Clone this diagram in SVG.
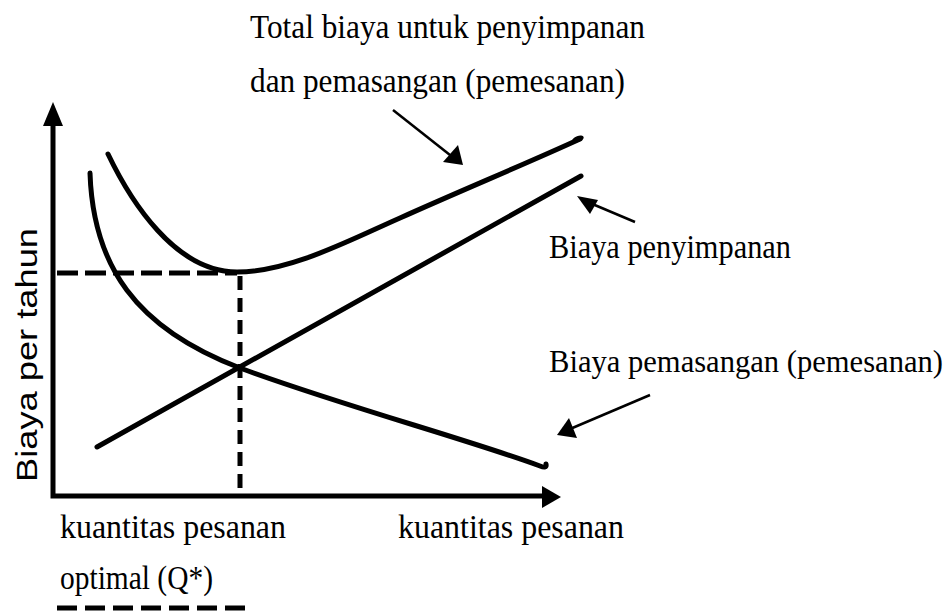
<svg xmlns="http://www.w3.org/2000/svg" width="952" height="612" viewBox="0 0 952 612">
<style>
.lbl{font-family:"Liberation Serif","Times New Roman",serif;font-size:34px;fill:#000}
.ax{font-family:"Liberation Sans",Arial,sans-serif;font-size:30px;fill:#000}
.curve{fill:none;stroke:#000;stroke-width:5;stroke-linecap:round;stroke-linejoin:round}
.dash{fill:none;stroke:#000;stroke-width:5}
.thin{fill:none;stroke:#000;stroke-width:2.5}
.head{fill:#000;stroke:none}
</style>
<rect width="952" height="612" fill="#fff"/>
<g id="axes">
<polyline class="dash" points="53,123 53,496 544,496"/>
<polygon class="head" points="53,102 43,126 63,126"/>
<polygon class="head" points="561,497 542,486 542,508"/>
<text class="ax" transform="translate(37,482) rotate(-90)" textLength="254" lengthAdjust="spacingAndGlyphs">Biaya per tahun</text>
</g>
<g id="guides">
<line class="dash" x1="57" y1="273" x2="237" y2="273" stroke-dasharray="21 7"/>
<line class="dash" x1="240" y1="276" x2="240" y2="494" stroke-dasharray="14 8"/>
<line class="dash" x1="57" y1="608" x2="245" y2="608" stroke-dasharray="20 8"/>
</g>
<g id="total-cost">
<path class="curve" d="M108,154 C130,200 175,272 237,272 C290,272 350,240 400,218 C460,191 530,162 580,139"/>
<ellipse cx="578" cy="139" rx="6" ry="3" transform="rotate(-20 578 139)"/>
</g>
<g id="holding-cost">
<path class="curve" d="M97,447 L581,176"/>
</g>
<g id="ordering-cost">
<path class="curve" d="M90,173 C93,265 135,328 240,368 C340,405 470,440 540,466 Q547,469 546,464"/>
</g>
<g id="connectors">
<line class="thin" x1="393" y1="110" x2="450" y2="155"/>
<polygon class="head" points="463,165 443,162 458,145"/>
<line class="thin" x1="635" y1="222" x2="590" y2="203"/>
<polygon class="head" points="577,196 590,214 598,200"/>
<line class="thin" x1="650" y1="395" x2="570" y2="429"/>
<polygon class="head" points="557,435 569,418 577,438"/>
</g>
<g id="labels">
<text class="lbl" x="250" y="38" textLength="395" lengthAdjust="spacingAndGlyphs">Total biaya untuk penyimpanan</text>
<text class="lbl" x="250" y="92" textLength="375" lengthAdjust="spacingAndGlyphs">dan pemasangan (pemesanan)</text>
<text class="lbl" x="549" y="258" textLength="242" lengthAdjust="spacingAndGlyphs">Biaya penyimpanan</text>
<text class="lbl" x="549" y="372" style="font-size:31px" textLength="394" lengthAdjust="spacingAndGlyphs">Biaya pemasangan (pemesanan)</text>
<text class="lbl" x="60" y="538" textLength="226" lengthAdjust="spacingAndGlyphs">kuantitas pesanan</text>
<text class="lbl" x="60" y="589" textLength="153" lengthAdjust="spacingAndGlyphs">optimal (Q*)</text>
<text class="lbl" x="398" y="538" textLength="226" lengthAdjust="spacingAndGlyphs">kuantitas pesanan</text>
</g>
</svg>
